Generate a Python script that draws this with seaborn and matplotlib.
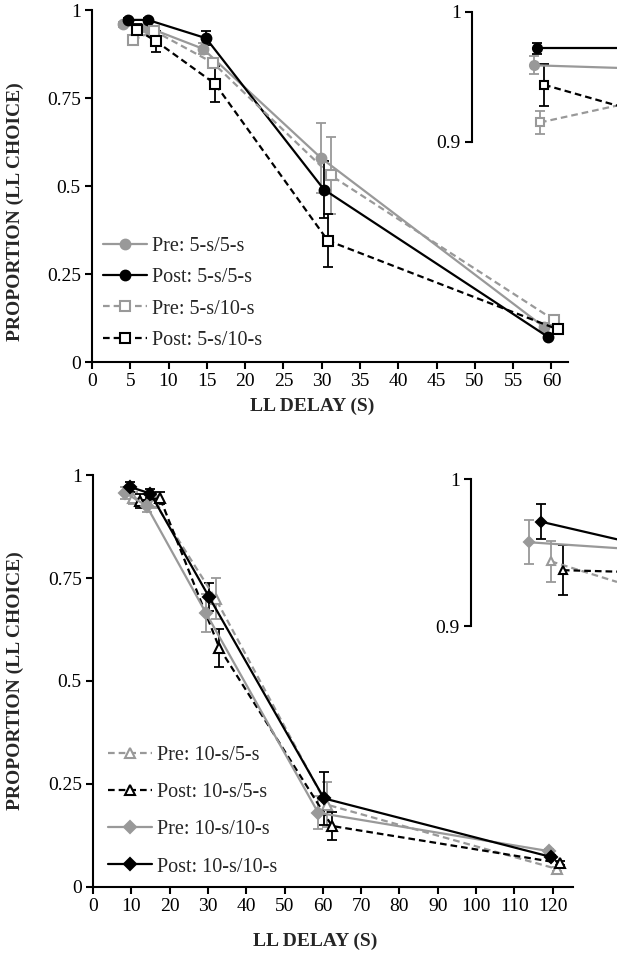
import matplotlib
matplotlib.use("Agg")
import matplotlib.pyplot as plt
import seaborn as sns

# ---------- top panel data (5-s conditions) ----------
pre55_x = [4.1, 7.0, 14.5, 29.9, 59.0]
pre55_y = [0.959, 0.953, 0.89, 0.58, 0.10]
pre55_err = [0.007, 0.008, 0.015, 0.10, 0.01]

post55_x = [4.7, 7.3, 14.9, 30.3, 59.5]
post55_y = [0.972, 0.972, 0.92, 0.49, 0.072]
post55_err = [0.004, 0.005, 0.02, 0.08, 0.005]

pre510_x = [5.4, 8.1, 15.8, 31.2, 60.3]
pre510_y = [0.915, 0.941, 0.85, 0.53, 0.12]
pre510_err = [0.009, 0.008, 0.015, 0.11, 0.01]

post510_x = [5.9, 8.4, 16.1, 30.8, 60.8]
post510_y = [0.944, 0.911, 0.79, 0.345, 0.093]
post510_err = [0.016, 0.03, 0.05, 0.075, 0.005]

# top inset (zoom of first points)
ti_pre55_x = [0.428, 1.0]
ti_pre55_y = [0.959, 0.957]
ti_post55_x = [0.448, 1.0]
ti_post55_y = [0.972, 0.972]
ti_pre510_x = [0.469, 1.0]
ti_pre510_y = [0.915, 0.928]
ti_post510_x = [0.497, 1.0]
ti_post510_y = [0.944, 0.928]
ti_err = [0.007, 0.004, 0.009, 0.016]

# ---------- bottom panel data (10-s conditions) ----------
pre105_x = [10.5, 16.0, 32.0, 61.0, 121.0]
pre105_y = [0.944, 0.935, 0.70, 0.20, 0.044]
pre105_err = [0.014, 0.015, 0.05, 0.055, 0.005]

post105_x = [12.3, 17.5, 33.0, 62.4, 122.0]
post105_y = [0.938, 0.944, 0.58, 0.148, 0.058]
post105_err = [0.017, 0.015, 0.045, 0.035, 0.005]

pre1010_x = [8.4, 14.0, 29.5, 58.8, 119.0]
pre1010_y = [0.957, 0.925, 0.665, 0.18, 0.087]
pre1010_err = [0.015, 0.015, 0.045, 0.04, 0.005]

post1010_x = [9.7, 15.0, 30.3, 60.3, 119.5]
post1010_y = [0.971, 0.955, 0.704, 0.215, 0.073]
post1010_err = [0.012, 0.01, 0.035, 0.065, 0.005]

# bottom inset
bi_pre105_x = [0.548, 1.0]
bi_pre105_y = [0.944, 0.930]
bi_post105_x = [0.630, 1.0]
bi_post105_y = [0.938, 0.937]
bi_pre1010_x = [0.397, 1.0]
bi_pre1010_y = [0.957, 0.953]
bi_post1010_x = [0.479, 1.0]
bi_post1010_y = [0.971, 0.959]
bi_err = [0.014, 0.017, 0.015, 0.012]

GRAY = "#999999"
BLACK = "#000000"
DASH = (0, (3, 1.8))
TICK_FS = 14
LEG_FS = 14.5
LAB_FS = 14

sns.set_style("ticks")
plt.rcParams["font.family"] = ["Liberation Serif", "DejaVu Serif"]
plt.rcParams["font.size"] = TICK_FS

fig = plt.figure(figsize=(6.17, 9.75), dpi=100)


def series(ax, x, y, err, color, marker, ls, label, face=None, ms=7):
    ax.errorbar(x, y, yerr=err, fmt="none", ecolor=color, elinewidth=1.3,
                capsize=3.5, capthick=1.3, zorder=1.5)
    sns.lineplot(x=x, y=y, ax=ax, color=color, marker=marker, linestyle=ls,
                 linewidth=1.6, markersize=ms, label=label,
                 markerfacecolor=face if face else color,
                 markeredgecolor=color, markeredgewidth=1.5,
                 errorbar=None, sort=False, zorder=2)


def inset_series(ax, x, y, err, color, marker, ls, face=None, ms=6.5):
    ax.errorbar(x[:1], y[:1], yerr=err, fmt="none", ecolor=color,
                elinewidth=1.3, capsize=3.5, capthick=1.3, zorder=1.5)
    sns.lineplot(x=x, y=y, ax=ax, color=color, marker=marker, linestyle=ls,
                 linewidth=1.6, markersize=ms, markevery=[0],
                 markerfacecolor=face if face else color,
                 markeredgecolor=color, markeredgewidth=1.5,
                 errorbar=None, sort=False, legend=False, zorder=2)


def style_main(ax):
    ax.set_ylim(0, 1)
    ax.set_yticks([0, 0.25, 0.5, 0.75, 1])
    ax.set_yticklabels(["0", "0.25", "0.5", "0.75", "1"])
    sns.despine(ax=ax)
    for s in ["left", "bottom"]:
        ax.spines[s].set_linewidth(1.5)
        ax.spines[s].set_color("black")
    ax.tick_params(direction="out", length=5, width=1.5, labelsize=TICK_FS,
                   colors="black", pad=3)
    ax.set_ylabel("PROPORTION (LL CHOICE)", fontweight="bold", fontsize=LAB_FS)
    ax.set_xlabel("LL DELAY (S)", fontweight="bold", fontsize=LAB_FS)


def style_inset(ax):
    ax.set_ylim(0.9, 1)
    ax.set_xlim(0, 1)
    ax.set_yticks([0.9, 1])
    ax.set_yticklabels(["0.9", "1"])
    ax.set_xticks([])
    ax.patch.set_alpha(0)
    for s in ["top", "right", "bottom"]:
        ax.spines[s].set_visible(False)
    ax.spines["left"].set_linewidth(1.5)
    ax.spines["left"].set_color("black")
    ax.tick_params(direction="out", length=5, width=1.5, labelsize=TICK_FS,
                   colors="black", pad=3)
    ax.set_xlabel("")
    ax.set_ylabel("")


# ---------- top panel ----------
ax1 = fig.add_axes([0.149, 0.6287, 0.772, 0.3610])
series(ax1, pre55_x, pre55_y, pre55_err, GRAY, "o", "-", "Pre: 5-s/5-s")
series(ax1, post55_x, post55_y, post55_err, BLACK, "o", "-", "Post: 5-s/5-s")
series(ax1, pre510_x, pre510_y, pre510_err, GRAY, "s", DASH, "Pre: 5-s/10-s", face="white", ms=6.5)
series(ax1, post510_x, post510_y, post510_err, BLACK, "s", DASH, "Post: 5-s/10-s", face="white", ms=6.5)
ax1.set_xlim(0, 62.2)
ax1.set_xticks(range(0, 61, 5))
style_main(ax1)
ax1.xaxis.set_label_coords(0.462, -0.10)
ax1.yaxis.set_label_coords(-0.143, 0.426)
ax1.legend(loc="center left", bbox_to_anchor=(0.023, 0.195), frameon=False,
           handlelength=2.2, handletextpad=0.25, labelspacing=0.6,
           borderaxespad=0, borderpad=0, fontsize=LEG_FS)

ax1i = fig.add_axes([0.765, 0.8544, 0.235, 0.1333])
inset_series(ax1i, ti_pre55_x, ti_pre55_y, ti_err[0], GRAY, "o", "-")
inset_series(ax1i, ti_post55_x, ti_post55_y, ti_err[1], BLACK, "o", "-")
inset_series(ax1i, ti_pre510_x, ti_pre510_y, ti_err[2], GRAY, "s", DASH, face="white", ms=6)
inset_series(ax1i, ti_post510_x, ti_post510_y, ti_err[3], BLACK, "s", DASH, face="white", ms=6)
style_inset(ax1i)

# ---------- bottom panel ----------
ax2 = fig.add_axes([0.1507, 0.0903, 0.778, 0.4225])
series(ax2, pre105_x, pre105_y, pre105_err, GRAY, "^", DASH, "Pre: 10-s/5-s", face="white", ms=6.5)
series(ax2, post105_x, post105_y, post105_err, BLACK, "^", DASH, "Post: 10-s/5-s", face="white", ms=6.5)
series(ax2, pre1010_x, pre1010_y, pre1010_err, GRAY, "D", "-", "Pre: 10-s/10-s", ms=6)
series(ax2, post1010_x, post1010_y, post1010_err, BLACK, "D", "-", "Post: 10-s/10-s", ms=6)
ax2.set_xlim(0, 125.3)
ax2.set_xticks(range(0, 121, 10))
style_main(ax2)
ax2.xaxis.set_label_coords(0.462, -0.112)
ax2.yaxis.set_label_coords(-0.143, 0.50)
ax2.legend(loc="center left", bbox_to_anchor=(0.031, 0.184), frameon=False,
           handlelength=2.2, handletextpad=0.25, labelspacing=0.9,
           borderaxespad=0, borderpad=0, fontsize=LEG_FS)

ax2i = fig.add_axes([0.763, 0.3579, 0.237, 0.1508])
inset_series(ax2i, bi_pre105_x, bi_pre105_y, bi_err[0], GRAY, "^", DASH, face="white", ms=6)
inset_series(ax2i, bi_post105_x, bi_post105_y, bi_err[1], BLACK, "^", DASH, face="white", ms=6)
inset_series(ax2i, bi_pre1010_x, bi_pre1010_y, bi_err[2], GRAY, "D", "-", ms=5.5)
inset_series(ax2i, bi_post1010_x, bi_post1010_y, bi_err[3], BLACK, "D", "-", ms=5.5)
style_inset(ax2i)

fig.savefig("out.png", dpi=100)
